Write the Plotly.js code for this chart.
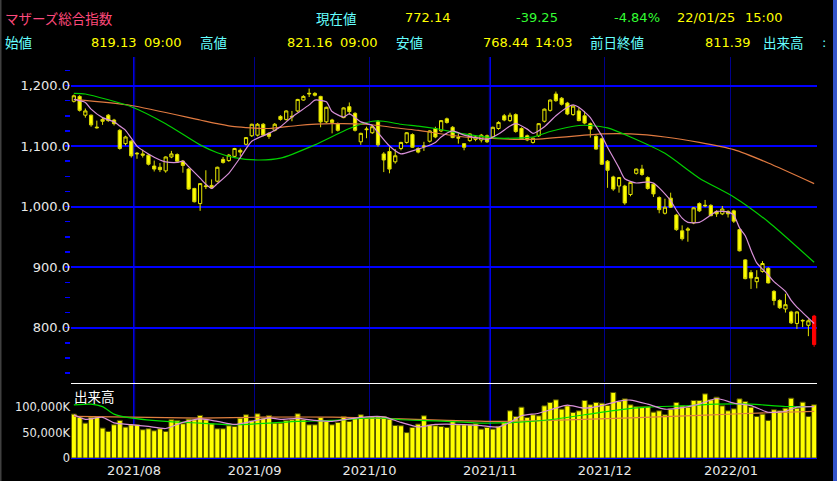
<!DOCTYPE html>
<html><head><meta charset="utf-8">
<script src="https://cdn.plot.ly/plotly-3.0.1.min.js"></script>
<style>html,body{margin:0;padding:0;background:#000;}#chart{width:837px;height:481px;}</style>
</head><body><div id="chart"></div>
<script>
// ---- data ----
const dates = [
'2021-07-14','2021-07-15','2021-07-16','2021-07-19','2021-07-20','2021-07-21','2021-07-26','2021-07-27','2021-07-28','2021-07-29','2021-07-30',
'2021-08-02','2021-08-03','2021-08-04','2021-08-05','2021-08-06','2021-08-10','2021-08-11','2021-08-12','2021-08-13','2021-08-16','2021-08-17','2021-08-18','2021-08-19','2021-08-20','2021-08-23','2021-08-24','2021-08-25','2021-08-26','2021-08-27','2021-08-30','2021-08-31',
'2021-09-01','2021-09-02','2021-09-03','2021-09-06','2021-09-07','2021-09-08','2021-09-09','2021-09-10','2021-09-13','2021-09-14','2021-09-15','2021-09-16','2021-09-17','2021-09-21','2021-09-22','2021-09-24','2021-09-27','2021-09-28','2021-09-29','2021-09-30',
'2021-10-01','2021-10-04','2021-10-05','2021-10-06','2021-10-07','2021-10-08','2021-10-11','2021-10-12','2021-10-13','2021-10-14','2021-10-15','2021-10-18','2021-10-19','2021-10-20','2021-10-21','2021-10-22','2021-10-25','2021-10-26','2021-10-27','2021-10-28','2021-10-29',
'2021-11-01','2021-11-02','2021-11-04','2021-11-05','2021-11-08','2021-11-09','2021-11-10','2021-11-11','2021-11-12','2021-11-15','2021-11-16','2021-11-17','2021-11-18','2021-11-19','2021-11-22','2021-11-24','2021-11-25','2021-11-26','2021-11-29','2021-11-30',
'2021-12-01','2021-12-02','2021-12-03','2021-12-06','2021-12-07','2021-12-08','2021-12-09','2021-12-10','2021-12-13','2021-12-14','2021-12-15','2021-12-16','2021-12-17','2021-12-20','2021-12-21','2021-12-22','2021-12-23','2021-12-24','2021-12-27','2021-12-28','2021-12-29','2021-12-30',
'2022-01-04','2022-01-05','2022-01-06','2022-01-07','2022-01-11','2022-01-12','2022-01-13','2022-01-14','2022-01-17','2022-01-18','2022-01-19','2022-01-20','2022-01-21','2022-01-24','2022-01-25'
];
const openP = [1174,1182,1151,1151,1130,1144,1151,1143,1126,1104,
1108,1087,1087,1085,1067,1065,1059,1082,1086,1075,
1062,1030,1005,1033,1035,1042,1078,1076,1083,1093,
1103,1117,1118,1136,1121,1126,1149,1144,1148,1158,
1176,1186,1187,1182,1140,1143,1137,1147,1165,1154,
1107,1127,1122,1140,1087,1091,1074,1096,1106,1119,
1096,1099,1108,1129,1125,1145,1131,1113,1104,1109,
1111,1110,1117,1115,1129,1150,1142,1152,1129,1117,
1106,1117,1141,1159,1186,1179,1171,1152,1158,1150,
1137,1116,1112,1075,1049,1034,1034,1020,1055,1062,
1048,1037,1015,989,1014,986,960,961,973,1005,
1001,1002,992,988,992,993,962,912,891,876,
893,898,860,845,831,826,807,811,804,819.13];
const highP = [1185,1184,1162,1152,1142,1148,1153,1145,1128,1117,
1110,1090,1094,1087,1076,1072,1083,1092,1088,1077,
1064,1031,1039,1060,1045,1066,1082,1087,1097,1096,
1115,1137,1138,1138,1123,1138,1151,1159,1158,1178,
1184,1195,1189,1183,1165,1145,1139,1164,1172,1156,
1122,1132,1134,1143,1090,1098,1095,1107,1123,1121,
1098,1107,1126,1132,1143,1147,1133,1121,1105,1121,
1118,1120,1119,1132,1141,1153,1155,1154,1131,1119,
1114,1138,1162,1177,1190,1181,1173,1167,1164,1158,
1139,1118,1114,1077,1051,1049,1036,1041,1063,1069,
1050,1039,1017,1013,1023,988,969,966,999,1007,
1011,1004,994,1001,994,995,964,913,895,895,
910,900,862,847,856,828,827,814,814,821.16];
const lowP = [1172,1157,1147,1132,1129,1135,1140,1134,1094,1101,
1081,1079,1081,1068,1058,1057,1056,1080,1074,1056,
1028,1007,993,1029,1029,1040,1071,1074,1081,1083,
1101,1115,1116,1116,1112,1124,1142,1142,1141,1156,
1175,1181,1182,1131,1138,1121,1124,1146,1152,1124,
1102,1113,1120,1099,1057,1055,1071,1093,1104,1097,
1088,1092,1106,1113,1123,1137,1113,1104,1093,1107,
1108,1106,1105,1113,1127,1141,1140,1122,1110,1108,
1104,1115,1139,1157,1173,1167,1151,1150,1141,1136,
1114,1094,1069,1031,1026,1023,1003,1017,1053,1051,
1028,1016,989,987,998,960,944,942,971,991,
999,984,983,986,982,973,926,880,864,865,
891,873,837,831,825,806,798,801,786,768.44];
const closeP = [1183,1159,1158,1135,1131,1141,1142,1137,1096,1115,
1084,1088,1085,1070,1062,1061,1082,1087,1075,1068,
1029,1008,1038,1034,1031,1065,1073,1085,1096,1090,
1114,1136,1136,1118,1116,1136,1144,1158,1149,1177,
1182,1187,1184,1140,1164,1139,1126,1163,1157,1126,
1121,1128,1132,1102,1077,1062,1084,1106,1122,1098,
1090,1100,1125,1115,1142,1139,1114,1114,1098,1120,
1115,1118,1107,1131,1139,1143,1151,1124,1111,1110,
1113,1137,1161,1176,1175,1169,1153,1166,1142,1138,
1128,1095,1070,1060,1029,1048,1006,1040,1062,1053,
1030,1021,995,999,999,962,947,963,998,993,
1002,985,988,996,988,976,927,881,882,883,
906,874,845,833,838,808,826,812,811.39,772.14];
// volume in K (thousand shares)
const volumeK = [86300,79700,68600,80400,80400,58800,52300,65400,73900,60800,
65400,65400,55600,57500,53600,57500,52300,75200,73900,67300,
76500,75200,83700,75200,67300,57500,57500,63400,62100,78400,
85000,73900,86900,78400,83700,68600,68600,73900,75200,86900,
75200,65400,65400,79700,71900,65400,69900,81700,71900,78400,
85000,78400,81700,81700,81700,76500,64000,63400,50000,60100,
66700,83000,65400,63400,62100,60100,73900,65400,65400,65400,
67300,56900,60100,56900,62100,70600,92800,81700,100000,79700,
85000,83000,102600,109200,114400,96100,102600,89500,92800,113100,
104600,109200,107800,103300,128800,111100,116300,104600,101300,101300,
101300,90200,92800,85000,96100,109200,102600,100000,113100,113100,
126100,114400,119600,102600,92800,96700,116300,111100,100000,81700,
86300,73900,94800,92800,98000,117600,98000,109800,81700,104600];
// price moving averages (sampled: candle index -> value)
const ma5Idx  = [0,2,3,5,7,8,9,10,11,13,15,16,18,19,20,22,23,24,25,27,29,31,34,36,38,41,42,44,45,47,48,50,52,53,55,57,59,61,63,64,66,68,70,72,74,76,77,79,80,82,84,86,87,88,90,91,92,93,95,96,98,100,101,102,103,104,105,106,107,109,111,112,114,115,116,117,118,119,121,122,124,125,126,127,129];
const ma5Val  = [1177,1172,1161,1147,1140,1133,1126,1113,1100,1087,1077,1074,1073,1075,1066,1047,1037,1030,1038,1055,1081,1108,1121,1132,1148,1168,1176,1173,1157,1148,1153,1140,1134,1122,1100,1087,1092,1098,1106,1115,1125,1118,1114,1111,1120,1133,1137,1128,1121,1132,1150,1164,1168,1164,1147,1132,1117,1098,1064,1046,1039,1041,1039,1031,1021,1010,994,981,974,974,986,992,991,986,965,952,928,907,887,876,860,845,834,825,807];
const ma25Idx = [0,2,10,16,22,25,28,32,36,42,48,52,54,57,60,63,68,74,80,83,88,90,93,97,103,109,115,121,129];
const ma25Val = [1187,1186,1165,1137,1102,1089,1081,1077,1080,1102,1129,1141,1141,1136,1133,1129,1120,1113,1115,1124,1134,1134,1130,1115,1088,1047,1016,975,908];
const ma75Idx = [0,10,22,25,28,34,39,45,51,57,60,68,80,92,97,103,109,115,121,129];
const ma75Val = [1177,1167,1143,1137,1132,1129,1134,1137,1136,1129,1126,1115,1111,1120,1120,1115,1106,1094,1072,1038];
// volume moving averages (sampled)
const vma5Idx = [0,2,5,7,10,13,16,19,22,25,28,31,34,36,39,42,45,48,51,54,57,60,63,65,68,71,74,76,78,81,84,86,89,92,95,97,100,103,106,109,112,115,118,121,124,126,129];
const vma5Val = [85000,76000,80000,69000,65500,62000,58000,70000,77000,72000,66000,72000,79000,76000,78000,74000,72000,77000,81000,81000,70000,61000,66000,66500,65500,63500,61000,70000,83000,88000,98000,104000,98000,103000,112000,114000,106000,96000,99000,106000,117000,108000,103000,90000,92000,100000,101000];
const vma25Idx = [0,3,5,7,9,16,22,28,34,39,45,51,54,57,63,71,77,83,89,95,100,106,112,118,124,129];
const vma25Val = [104600,105900,101000,86300,80400,71900,68600,65400,68600,71900,73900,78400,78400,75200,73200,68600,69900,75200,85000,94800,100000,102600,105900,105900,101300,101300];
const vma75Idx = [0,10,22,33,45,57,65,74,86,97,109,121,129];
const vma75Val = [81700,80400,78400,80400,80400,77000,74000,72000,75000,79000,84000,89000,91500];
// ticks
const monthStarts = ['2021-08-02','2021-09-01','2021-10-01','2021-11-01','2021-12-01','2022-01-04'];
const monthLabels = ['2021/08','2021/09','2021/10','2021/11','2021/12','2022/01'];
const boldMonths = ['2021-08-02','2021-11-01'];
const priceTicks = [800,900,1000,1100,1200];
const priceHalfTicks = [750,850,950,1050,1150];
const volTicks = [0,50000,100000];
const volTickText = ['0','50,000K','100,000K'];
// header
const header1 = [
 {t:'マザーズ総合指数', x:5, c:'#ff4a7c', cjk:true},
 {t:'現在値', x:316, c:'#66ffff', cjk:true},
 {t:'772.14', x:405, c:'#ffff00'},
 {t:'-39.25', x:516, c:'#33ff33'},
 {t:'-4.84%', x:614, c:'#33ff33'},
 {t:'22/01/25', x:677, c:'#ffff00'},
 {t:'15:00', x:745, c:'#ffff00'}
];
const header2 = [
 {t:'始値', x:5, c:'#66ffff', cjk:true},
 {t:'819.13', x:91, c:'#ffff00'},
 {t:'09:00', x:144, c:'#ffff00'},
 {t:'高値', x:200, c:'#66ffff', cjk:true},
 {t:'821.16', x:287, c:'#ffff00'},
 {t:'09:00', x:340, c:'#ffff00'},
 {t:'安値', x:396, c:'#66ffff', cjk:true},
 {t:'768.44', x:483, c:'#ffff00'},
 {t:'14:03', x:535, c:'#ffff00'},
 {t:'前日終値', x:590, c:'#66ffff', cjk:true},
 {t:'811.39', x:705, c:'#ffff00'},
 {t:'出来高', x:763, c:'#66ffff', cjk:true},
 {t:':', x:822, c:'#66ffff'}
];

// ---- layout geometry ----
const W=837,H=481,L=71,R=20,T=57,B=23;
const pw=W-L-R, ph=H-T-B;
const px = x => (x-L)/pw;
const py = y => (H-B-y)/ph;
const NUM='DejaVu Sans, Verdana, sans-serif';
const CJK='Noto Sans CJK JP, sans-serif';
const BLUE='#0000ff';

const n = dates.length;
const pick = (idx, vals) => ({x: idx.map(i=>dates[i]), y: vals});

const traces = [];
traces.push({
  type:'candlestick', x:dates.slice(0,n-1),
  open:openP.slice(0,n-1), high:highP.slice(0,n-1), low:lowP.slice(0,n-1), close:closeP.slice(0,n-1),
  increasing:{line:{color:'#e6e600',width:1}, fillcolor:'#000000'},
  decreasing:{line:{color:'#d8d800',width:1}, fillcolor:'#ffff00'},
  whiskerwidth:0, xaxis:'x', yaxis:'y', hoverinfo:'skip', showlegend:false
});
traces.push({
  type:'candlestick', x:dates.slice(n-1),
  open:openP.slice(n-1), high:highP.slice(n-1), low:lowP.slice(n-1), close:closeP.slice(n-1),
  increasing:{line:{color:'#ff0000',width:1}, fillcolor:'#ff0000'},
  decreasing:{line:{color:'#ff0000',width:1}, fillcolor:'#ff0000'},
  whiskerwidth:0, xaxis:'x', yaxis:'y', hoverinfo:'skip', showlegend:false
});
const line = (d, color, yaxis, w) => Object.assign({type:'scatter', mode:'lines', line:{color:color, width:w||1.2, shape:'spline', smoothing:0.6}, xaxis:'x', yaxis:yaxis, hoverinfo:'skip', showlegend:false}, d);
traces.push(line(pick(ma75Idx, ma75Val), '#e07a40', 'y'));
traces.push(line(pick(ma25Idx, ma25Val), '#00d000', 'y'));
traces.push(line(pick(ma5Idx, ma5Val), '#d890d8', 'y'));
traces.push({type:'bar', x:dates, y:volumeK, marker:{color:'#ffff00', line:{color:'#505000', width:1}}, xaxis:'x', yaxis:'y2', hoverinfo:'skip', showlegend:false});
traces.push(line(pick(vma75Idx, vma75Val), '#e08040', 'y2'));
traces.push(line(pick(vma25Idx, vma25Val), '#00e000', 'y2'));
traces.push(line(pick(vma5Idx, vma5Val), '#d890d8', 'y2'));

const annotations = [];
header1.forEach(h => annotations.push({xref:'paper', yref:'paper', x:px(h.x-2), y:py(18), xanchor:'left', yanchor:'middle', showarrow:false, text:h.t, font:{family:h.cjk?CJK:NUM, size:h.cjk?13.5:13, color:h.c}}));
header2.forEach(h => annotations.push({xref:'paper', yref:'paper', x:px(h.x-2), y:py(42), xanchor:'left', yanchor:'middle', showarrow:false, text:h.t, font:{family:h.cjk?CJK:NUM, size:h.cjk?13.5:13, color:h.c}}));
annotations.push({xref:'paper', yref:'paper', x:px(72), y:py(396), xanchor:'left', yanchor:'middle', showarrow:false, text:'出来高', font:{family:CJK, size:13.5, color:'#ffffff'}});

const mainDomain=[py(382),1], volDomain=[0,py(383)];
const mainRange=[710.3,1247.1], volRange=[0,147500];

const shapes = [
  {type:'line', xref:'paper', x0:0, x1:1, yref:'paper', y0:py(383.5), y1:py(383.5), line:{color:'#ffffff', width:1}},
  {type:'rect', xref:'paper', x0:px(833), x1:px(838), yref:'paper', y0:py(482), y1:py(-1), line:{width:0}, fillcolor:'#3355cc'},
  {type:'rect', xref:'paper', x0:px(-1), x1:px(1.5), yref:'paper', y0:py(482), y1:py(-1), line:{width:0}, fillcolor:'#404040'}
];
boldMonths.forEach(d => {
  const xi = dates.indexOf(d) - 0.5;
  shapes.push({type:'line', xref:'x', x0:xi, x1:xi, yref:'paper', y0:0, y1:1, layer:'below', line:{color:BLUE, width:2}});
});

const layout = {
  width:W, height:H, margin:{l:L,r:R,t:T,b:B}, paper_bgcolor:'#000000', plot_bgcolor:'#000000',
  showlegend:false, boxgap:0.2, bargap:0.12,
  xaxis:{type:'category', categoryorder:'array', categoryarray:dates, range:[-0.5,n-0.5], anchor:'y2',
    tickmode:'array', tickvals:monthStarts.map(d=>dates.indexOf(d)-0.5), ticktext:monthLabels,
    showgrid:true, gridcolor:'#00008c', gridwidth:1, showline:true, linecolor:BLUE, linewidth:1, ticks:'', zeroline:false,
    tickfont:{family:NUM, size:13, color:'#e8e8e8'}, rangeslider:{visible:false}, fixedrange:true},
  yaxis:{domain:mainDomain, range:mainRange, anchor:'x', tickmode:'array', tickvals:priceTicks, tickformat:',.1f',
    showgrid:true, gridcolor:BLUE, gridwidth:2, zeroline:false, ticks:'', showline:false,
    minor:{dtick:25, tick0:0, ticks:'outside', ticklen:5, tickwidth:1.5, tickcolor:BLUE, showgrid:false},
    tickfont:{family:NUM, size:13, color:'#e8e8e8'}, fixedrange:true},
  yaxis3:{overlaying:'y', anchor:'x', range:mainRange, tickmode:'array', tickvals:priceHalfTicks, showticklabels:false,
    ticks:'outside', ticklen:9, tickwidth:1.5, tickcolor:BLUE, showgrid:false, zeroline:false, showline:false},
  yaxis2:{domain:volDomain, range:volRange, anchor:'x', tickmode:'array', tickvals:volTicks, ticktext:volTickText,
    showgrid:false, zeroline:false, ticks:'', tickfont:{family:NUM, size:11.5, color:'#e8e8e8'}, fixedrange:true},
  yaxis4:{overlaying:'y2', anchor:'x', range:volRange, tickmode:'array', tickvals:[volTicks[2]], showticklabels:false,
    showgrid:true, gridcolor:BLUE, gridwidth:2, zeroline:false, ticks:''},
  yaxis5:{overlaying:'y2', anchor:'x', range:volRange, tickmode:'array', tickvals:[volTicks[1]], showticklabels:false,
    showgrid:true, gridcolor:'#8080ff', griddash:'dot', gridwidth:1, zeroline:false, ticks:''},
  shapes:shapes,
  annotations:annotations
};
Plotly.newPlot('chart', traces, layout, {displayModeBar:false, staticPlot:true});
</script></body></html>
